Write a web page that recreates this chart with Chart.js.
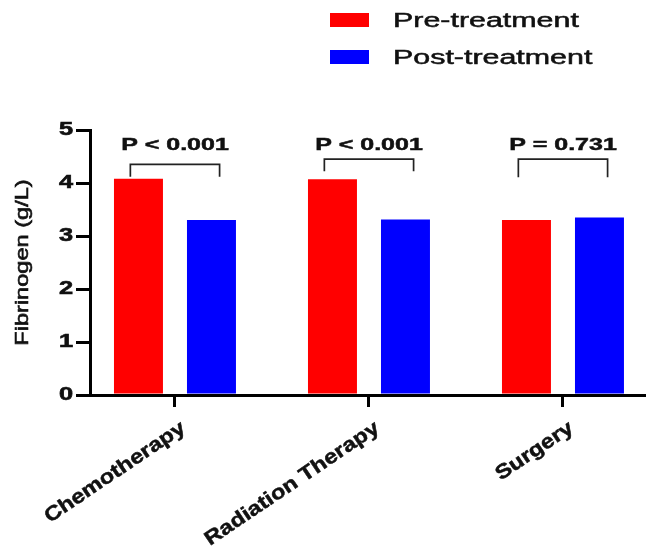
<!DOCTYPE html>
<html lang="en">
<head>
<meta charset="UTF-8" />
<title>Fibrinogen before and after treatment</title>
<script src="https://cdn.jsdelivr.net/npm/chart.js"></script>
<style>
  body { margin: 0; background: #fff; }
  .chart-box { width: 646px; height: 551px; position: relative; }
</style>
</head>
<body>
<div class="chart-box"><canvas id="fibChart"></canvas></div>
<script>
const categories = ['Chemotherapy', 'Radiation Therapy', 'Surgery'];
const seriesNames = ['Pre-treatment', 'Post-treatment'];
const preTreatment = [4.08, 4.07, 3.30];
const postTreatment = [3.30, 3.31, 3.35];
const pValueLabels = ['P < 0.001', 'P < 0.001', 'P = 0.731'];
const bracketTop = [4.35, 4.45, 4.45];
const bracketFoot = [4.12, 4.22, 4.11];
const yTicks = [0, 1, 2, 3, 4, 5];
const yTitle = 'Fibrinogen (g/L)';

const FONT = '"Liberation Sans", Arial, sans-serif';

// text in this figure is drawn wide, so stretch it along its baseline
function wideText(ctx, text, x, y, font, sx, align, baseline, angle, heavy) {
  ctx.save();
  ctx.translate(x, y);
  ctx.rotate(angle || 0);
  ctx.scale(sx, 1);
  ctx.font = font;
  ctx.fillStyle = '#111';
  ctx.textAlign = align;
  ctx.textBaseline = baseline;
  ctx.fillText(text, 0, 0);
  if (heavy) {
    ctx.strokeStyle = '#111';
    ctx.lineWidth = heavy;
    ctx.strokeText(text, 0, 0);
  }
  ctx.restore();
}

const annotate = {
  id: 'annotate',
  afterDatasetsDraw(chart) {
    const { ctx, scales: { x, y } } = chart;
    categories.forEach((name, i) => {
      const xl = x.getPixelForValue(i - 0.23);
      const xr = x.getPixelForValue(i + 0.23);
      const yt = y.getPixelForValue(bracketTop[i]);
      const yf = y.getPixelForValue(bracketFoot[i]);
      ctx.save();
      ctx.strokeStyle = '#222';
      ctx.lineWidth = 1.7;
      ctx.beginPath();
      ctx.moveTo(xl, yf);
      ctx.lineTo(xl, yt);
      ctx.lineTo(xr, yt);
      ctx.lineTo(xr, yf);
      ctx.stroke();
      ctx.restore();
      wideText(ctx, pValueLabels[i], x.getPixelForValue(i), y.getPixelForValue(4.62),
        'bold 17px ' + FONT, 1.47, 'center', 'alphabetic', 0, 0.5);
    });
  },
  afterDraw(chart) {
    const { ctx, chartArea, scales: { x, y } } = chart;

    // y tick labels
    y.ticks.forEach(t => {
      wideText(ctx, String(t.value), y.right - 17, y.getPixelForValue(t.value),
        'bold 17.5px ' + FONT, 1.45, 'right', 'middle', 0, 0.6);
    });

    // category labels, slanted
    categories.forEach((name, i) => {
      wideText(ctx, name, x.getPixelForValue(i) + 3, x.top + 23,
        'bold 20px ' + FONT, 1.18, 'right', 'top', -34 * Math.PI / 180, 0.5);
    });

    // y axis title
    wideText(ctx, yTitle, 28, (chartArea.top + chartArea.bottom) / 2,
      '18px ' + FONT, 1.31, 'center', 'alphabetic', -Math.PI / 2, 0.6);

    // legend, stacked top right
    chart.data.datasets.forEach((ds, i) => {
      const top = 13 + i * 37;
      ctx.fillStyle = ds.backgroundColor;
      ctx.fillRect(330, top, 39, 14);
      wideText(ctx, ds.label, 393, top + 8, '20px ' + FONT, 1.52, 'left', 'middle', 0, 0.5);
    });
  }
};

const axisLine = { display: true, width: 3, color: '#000' };
const tickMarks = { display: true, drawOnChartArea: false, drawTicks: true, tickLength: 12, lineWidth: 3, color: '#000', offset: false };

new Chart(document.getElementById('fibChart'), {
  type: 'bar',
  data: {
    datasets: [
      {
        label: seriesNames[0],
        data: categories.map((c, i) => ({ x: i, y: preTreatment[i] })),
        backgroundColor: '#ff0000',
        borderWidth: 0
      },
      {
        label: seriesNames[1],
        data: categories.map((c, i) => ({ x: i, y: postTreatment[i] })),
        backgroundColor: '#0000ff',
        borderWidth: 0
      }
    ]
  },
  options: {
    responsive: true,
    maintainAspectRatio: false,
    animation: false,
    categoryPercentage: 0.7526,
    barPercentage: 0.671,
    layout: { padding: { top: 130, left: 0, right: 0, bottom: 0 } },
    plugins: {
      legend: { display: false },
      tooltip: { enabled: false }
    },
    scales: {
      x: {
        type: 'linear',
        min: -0.438,
        max: 2.428,
        offset: false,
        afterFit(s) { s.height = 156; },
        ticks: { display: false, stepSize: 1, includeBounds: false },
        grid: tickMarks,
        border: axisLine
      },
      y: {
        min: 0,
        max: 5,
        afterFit(s) { s.width = 90; },
        afterBuildTicks(s) { s.ticks = yTicks.map(v => ({ value: v })); },
        ticks: { display: false },
        grid: { ...tickMarks, tickLength: 14 },
        border: axisLine
      }
    }
  },
  plugins: [annotate]
});
</script>
</body>
</html>
